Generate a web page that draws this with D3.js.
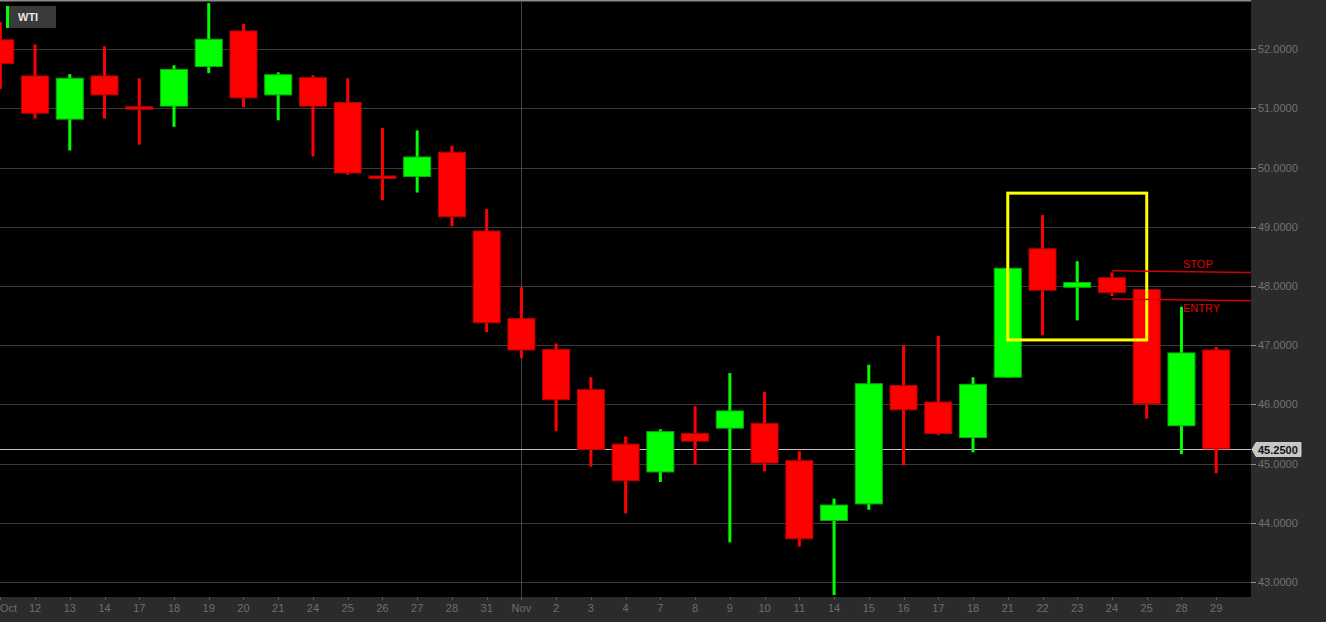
<!DOCTYPE html>
<html>
<head>
<meta charset="utf-8">
<script src="https://cdn.jsdelivr.net/npm/d3@7"></script>
<style>
  html, body { margin: 0; padding: 0; background: #2b2b2b; overflow: hidden; }
  svg { display: block; font-family: "Liberation Sans", Arial, sans-serif; }
</style>
</head>
<body>
<svg id="chart" width="1326" height="622"></svg>
<script>
// trading days shown on the chart
const dates = ["2016-10-11","2016-10-12","2016-10-13","2016-10-14","2016-10-17","2016-10-18","2016-10-19",
  "2016-10-20","2016-10-21","2016-10-24","2016-10-25","2016-10-26","2016-10-27","2016-10-28","2016-10-31",
  "2016-11-01","2016-11-02","2016-11-03","2016-11-04","2016-11-07","2016-11-08","2016-11-09","2016-11-10",
  "2016-11-11","2016-11-14","2016-11-15","2016-11-16","2016-11-17","2016-11-18","2016-11-21","2016-11-22",
  "2016-11-23","2016-11-24","2016-11-25","2016-11-28","2016-11-29"];
const dayLabels = ["Oct","12","13","14","17","18","19","20","21","24","25","26","27","28","31",
  "Nov","2","3","4","7","8","9","10","11","14","15","16","17","18","21","22","23","24","25","28","29"];

// OHLC
const opens  = [52.16,51.55,50.82,51.55,51.03,51.04,51.71,52.31,51.23,51.52,51.10,49.86,49.85,50.26,48.93,
  47.45,46.93,46.25,45.33,44.86,45.51,45.60,45.68,45.05,44.04,44.32,46.32,46.04,45.44,46.46,48.63,47.98,48.14,47.94,45.64,46.92];
const highs  = [52.46,52.08,51.58,52.05,51.51,51.73,52.78,52.43,51.61,51.56,51.51,50.67,50.63,50.37,49.30,
  47.98,47.03,46.46,45.46,45.58,45.97,46.53,46.21,45.21,44.41,46.67,47.00,47.16,46.46,48.31,49.20,48.42,48.23,47.95,47.65,46.97];
const lows   = [51.33,50.83,50.29,50.83,50.39,50.69,51.60,51.02,50.80,50.19,49.88,49.45,49.58,49.01,47.22,
  46.78,45.55,44.95,44.16,44.69,44.98,43.67,44.87,43.60,42.78,44.22,44.97,45.48,45.19,46.45,47.17,47.42,47.83,45.76,45.16,44.84];
const closes = [51.76,50.92,51.51,51.23,51.01,51.66,52.17,51.18,51.57,51.04,49.91,49.82,50.18,49.17,47.38,
  46.92,46.08,45.24,44.71,45.54,45.38,45.89,45.01,43.73,44.30,46.35,45.91,45.51,46.34,48.30,47.93,48.06,47.89,46.01,46.87,45.25];

const priceTicks = [43,44,45,46,47,48,49,50,51,52];
const lastPrice = 45.25;

// annotations
const boxDates = ["2016-11-21","2016-11-25"];
const boxPrices = [49.57, 47.09];
const stopLine = {label: "STOP", from: "2016-11-24", start: 48.26, end: 48.23};
const entryLine = {label: "ENTRY", from: "2016-11-24", start: 47.78, end: 47.75};

const candles = dates.map((d, i) => ({date: d, label: dayLabels[i], o: opens[i], h: highs[i], l: lows[i], c: closes[i]}));

const W = 1326, H = 622;
const plot = {left: 0, top: 2, right: 1251, bottom: 597};

const svg = d3.select("#chart");

const x = d3.scalePoint().domain(dates).range([0.3, 1216.2]);
const y = d3.scaleLinear().domain([42.747, 52.799]).range([plot.bottom, plot.top]);

// panels
svg.append("rect").attr("width", W).attr("height", H).attr("fill", "#2b2b2b");
svg.append("rect").attr("x", plot.left).attr("y", 0)
  .attr("width", plot.right - plot.left).attr("height", plot.bottom).attr("fill", "#000");
svg.append("rect").attr("x", 0).attr("y", 0).attr("width", plot.right).attr("height", 1.5).attr("fill", "#8a8a8a");

svg.append("defs").append("clipPath").attr("id", "clip")
  .append("rect").attr("x", 0).attr("y", 1.5).attr("width", plot.right).attr("height", plot.bottom - 1.5);

const g = svg.append("g").attr("clip-path", "url(#clip)");

// grid
g.selectAll("line.grid").data(priceTicks).enter().append("line")
  .attr("class", "grid")
  .attr("x1", 0).attr("x2", plot.right)
  .attr("y1", d => Math.round(y(d)) + 0.5).attr("y2", d => Math.round(y(d)) + 0.5)
  .attr("stroke", "#3a3a3a");

// month separator
g.append("line")
  .attr("x1", Math.round(x("2016-11-01")) + 0.5).attr("x2", Math.round(x("2016-11-01")) + 0.5)
  .attr("y1", 0).attr("y2", plot.bottom)
  .attr("stroke", "#444");

// last price line
g.append("line")
  .attr("x1", 0).attr("x2", plot.right)
  .attr("y1", Math.round(y(lastPrice)) + 0.5).attr("y2", Math.round(y(lastPrice)) + 0.5)
  .attr("stroke", "#c4c4c4");

// candles
const bodyW = 27;
const up = d => d.c >= d.o;
const fillCol = d => up(d) ? "#00ff00" : "#ff0000";
const edgeCol = d => up(d) ? "#00b400" : "#b40000";

const cg = g.append("g").selectAll("g").data(candles).enter().append("g");

cg.append("rect")
  .attr("x", d => x(d.date) - 1.5)
  .attr("width", 3)
  .attr("y", d => y(d.h))
  .attr("height", d => y(d.l) - y(d.h))
  .attr("fill", fillCol);

cg.append("rect")
  .attr("x", d => x(d.date) - bodyW / 2)
  .attr("width", bodyW)
  .attr("y", d => y(Math.max(d.o, d.c)))
  .attr("height", d => Math.max(2.5, Math.abs(y(d.o) - y(d.c))))
  .attr("fill", fillCol)
  .attr("stroke", edgeCol)
  .attr("stroke-width", 1);

// yellow box
g.append("rect")
  .attr("x", x(boxDates[0]))
  .attr("y", y(boxPrices[0]))
  .attr("width", x(boxDates[1]) - x(boxDates[0]))
  .attr("height", y(boxPrices[1]) - y(boxPrices[0]))
  .attr("fill", "none")
  .attr("stroke", "#ffff00")
  .attr("stroke-width", 3);

// stop / entry
[stopLine, entryLine].forEach((ln, i) => {
  g.append("line")
    .attr("x1", x(ln.from)).attr("x2", plot.right)
    .attr("y1", y(ln.start)).attr("y2", y(ln.end))
    .attr("stroke", "#d00000").attr("stroke-width", 1.5);
  g.append("text")
    .attr("x", 1183)
    .attr("y", i === 0 ? y(ln.start) - 3 : y(ln.start) + 13)
    .attr("fill", "#e00000")
    .attr("font-size", 11)
    .text(ln.label);
});

// right axis
const ya = svg.append("g");
ya.selectAll("line").data(priceTicks).enter().append("line")
  .attr("x1", plot.right).attr("x2", plot.right + 5)
  .attr("y1", d => Math.round(y(d)) + 0.5).attr("y2", d => Math.round(y(d)) + 0.5)
  .attr("stroke", "#8a8a8a");
ya.selectAll("text").data(priceTicks).enter().append("text")
  .attr("x", plot.right + 7)
  .attr("y", d => y(d))
  .attr("dy", "0.36em")
  .attr("fill", "#727272")
  .attr("font-size", 11)
  .text(d => d3.format(".4f")(d));

// last price tag
const ly = Math.round(y(lastPrice));
svg.append("path")
  .attr("d", `M${plot.right + 1},${ly + 0.5} L${plot.right + 5},${ly - 6.5} L${plot.right + 50},${ly - 6.5} L${plot.right + 50},${ly + 7.5} L${plot.right + 5},${ly + 7.5} Z`)
  .attr("fill", "#c6c6c6")
  .attr("stroke", "#e0e0e0").attr("stroke-width", 0.8);
svg.append("text")
  .attr("x", plot.right + 7).attr("y", ly + 1)
  .attr("dy", "0.36em")
  .attr("font-size", 11).attr("font-weight", "bold").attr("fill", "#111")
  .text(d3.format(".4f")(lastPrice));

// bottom axis
const xa = svg.append("g");
xa.selectAll("line").data(candles).enter().append("line")
  .attr("x1", d => Math.round(x(d.date)) + 0.5).attr("x2", d => Math.round(x(d.date)) + 0.5)
  .attr("y1", plot.bottom).attr("y2", plot.bottom + 3)
  .attr("stroke", "#555");
xa.selectAll("text").data(candles).enter().append("text")
  .attr("x", (d, i) => i === 0 ? 0 : x(d.date))
  .attr("y", 612)
  .attr("text-anchor", (d, i) => i === 0 ? "start" : "middle")
  .attr("fill", "#6e6e6e")
  .attr("font-size", 11)
  .text(d => d.label);

// symbol tag
svg.append("rect").attr("x", 6).attr("y", 6).attr("width", 3).attr("height", 22).attr("fill", "#00ff00");
svg.append("rect").attr("x", 9).attr("y", 6).attr("width", 47).attr("height", 22).attr("fill", "#3a3a3a");
svg.append("text").attr("x", 18).attr("y", 21).attr("font-size", 11).attr("font-weight", "bold")
  .attr("fill", "#e8e8e8").text("WTI");
</script>
</body>
</html>
